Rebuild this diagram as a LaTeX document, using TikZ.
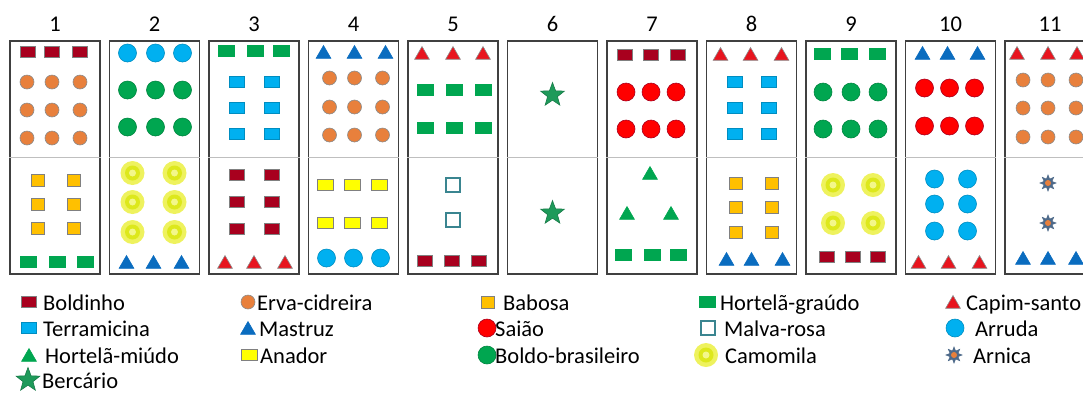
\documentclass[tikz,border=0pt]{standalone}
\usepackage{fontspec}
\setmainfont{Carlito}
\usetikzlibrary{shapes.geometric, positioning}
\definecolor{bdred}{HTML}{A8001E}
\definecolor{ervaor}{HTML}{E8803C}
\definecolor{babor}{HTML}{FFC000}
\definecolor{hgreen}{HTML}{00A650}
\definecolor{tblue}{HTML}{00B0F0}
\definecolor{mblue}{HTML}{0A6CBF}
\definecolor{cred}{HTML}{E8141E}
\definecolor{sred}{HTML}{FF0000}
\definecolor{anyel}{HTML}{FFFF00}
\definecolor{malteal}{HTML}{3A8590}
\definecolor{arnblue}{HTML}{4E6A8A}
\definecolor{bgreen}{HTML}{1E9A5A}
\definecolor{camhalo}{HTML}{EEF25E}
\definecolor{camring}{HTML}{DDE81C}
\definecolor{camcore}{HTML}{F3F78A}

\tikzset{
  plant/.style={inner sep=0pt, line width=0.6pt},
  sq/.style={plant, rectangle, minimum width=15pt, minimum height=11pt},
  dot/.style={plant, circle, minimum size=18pt},
  tri/.style={plant, regular polygon, regular polygon sides=3,
              minimum size=17pt, yshift=-2pt},
  boldinho/.style={sq, fill=bdred, draw=black!50},
  hgraudo/.style={sq, minimum width=16pt, fill=hgreen, draw=hgreen},
  terramicina/.style={sq, fill=tblue, draw=tblue!80!black},
  babosa/.style={sq, minimum width=13pt, minimum height=12pt,
                 fill=babor, draw=black!50},
  anador/.style={sq, minimum width=16pt, fill=anyel, draw=black!50},
  malva/.style={plant, rectangle, minimum size=13.5pt, fill=white,
                draw=malteal, line width=2.4pt},
  erva/.style={dot, minimum size=14pt, fill=ervaor, draw=black!45},
  arruda/.style={dot, fill=tblue, draw=tblue!80!black},
  saiao/.style={dot, fill=sred, draw=bdred},
  boldo/.style={dot, fill=hgreen, draw=hgreen!80!black},
  camomila/.style={dot, minimum size=24pt, fill=camhalo,
    path picture={
      \fill[camring] (path picture bounding box.center) circle (7.5pt);
      \fill[camcore] (path picture bounding box.center) circle (3.5pt);}},
  mastruz/.style={tri, fill=mblue, draw=mblue},
  capim/.style={tri, fill=cred, draw=black!45},
  hmiudo/.style={tri, fill=hgreen, draw=hgreen},
  bercario/.style={plant, star, star points=5, star point ratio=2.4,
                   minimum size=25pt, fill=bgreen, draw=bgreen!80!black},
  arnica/.style={plant, star, star points=8, star point ratio=1.9,
    minimum size=16pt, fill=arnblue, draw=arnblue,
    path picture={
      \fill[ervaor] (path picture bounding box.center) circle (3pt);}},
  bedbox/.style={draw=black!75, line width=1.3pt, minimum width=90pt,
                 minimum height=233pt, inner sep=0pt},
  divider/.style={draw=black!25, line width=0.8pt}
}

\begin{document}
\begin{tikzpicture}[x=1pt, y=-1pt, font=\fontsize{22.5}{27}\selectfont]
  \useasboundingbox (0,0) rectangle (1083,392);
  \clip (0,0) rectangle (1083,392);
  % beds
  \foreach \k in {1,...,11}{
    \node[bedbox] (bed\k) at ({55+(\k-1)*99.5},157.5) {};
    \draw[divider] (bed\k.west) -- (bed\k.east);
    \node[above=5pt of bed\k] (num\k) {\k};
  }
  % plants: style/y/{x offsets}
  \foreach \k/\rows in {
    1/{boldinho/52/{-27,-3,25}, erva/82/{-28,-3,25}, erva/110/{-28,-3,25},
       erva/138/{-28,-3,25}, babosa/180/{-17,19}, babosa/204/{-17,19},
       babosa/228/{-17,19}, hgraudo/262/{-27,2,30}},
    2/{arruda/53/{-27,1,28}, boldo/90/{-27,1,28}, boldo/127/{-27,1,28},
       camomila/173/{-22,20}, camomila/202/{-22,20}, camomila/232/{-22,20},
       mastruz/262/{-28,-1,27}},
    3/{hgraudo/51/{-28,1,27}, terramicina/82/{-17,18},
       terramicina/108/{-17,18}, terramicina/134/{-17,18},
       boldinho/175/{-17,18}, boldinho/202/{-17,18}, boldinho/229/{-17,18},
       capim/262/{-29,0,31}},
    4/{mastruz/52/{-30,1,32}, erva/78/{-24,1,29}, erva/107/{-24,1,29},
       erva/135/{-24,1,29}, anador/185/{-28,-1,26}, anador/223/{-28,-1,26},
       arruda/258/{-27,0,27}},
    5/{capim/53/{-31,0,30}, hgraudo/90/{-28,1,30}, hgraudo/128/{-28,1,30},
       malva/185/{0}, malva/220/{0}, boldinho/261/{-28,-1,26}},
    6/{bercario/95/{0}, bercario/213/{0}},
    7/{boldinho/55/{-27,-1,26}, saiao/92/{-26,-1,24}, saiao/129/{-26,-1,24},
       hmiudo/173/{-2}, hmiudo/213/{-25,19}, hgraudo/255/{-29,0,26}},
    8/{capim/54/{-31,-1,30}, terramicina/82/{-17,17},
       terramicina/108/{-17,17}, terramicina/134/{-17,17},
       babosa/183/{-16,20}, babosa/207/{-16,20}, babosa/232/{-16,20},
       mastruz/259/{-25,0,31}},
    9/{hgraudo/54/{-29,-2,26}, boldo/92/{-28,0,27}, boldo/129/{-28,0,27},
       camomila/185/{-18,22}, camomila/223/{-18,22},
       boldinho/257/{-24,2,27}},
    10/{mastruz/53/{-28,-3,27}, saiao/88/{-26,-1,24}, saiao/126/{-26,-1,24},
        arruda/179/{-16,17}, arruda/204/{-16,17}, arruda/231/{-16,17},
        capim/262/{-32,-2,29}},
    11/{capim/53/{-33,-2,27}, erva/80/{-27,-2,26}, erva/108/{-27,-2,26},
        erva/137/{-27,-2,26}, arnica/183/{-2}, arnica/223/{-2},
        mastruz/258/{-27,-2,26}}}{
    \foreach \s/\y/\xs [count=\r] in \rows
      \foreach \dx [count=\c] in \xs
        \node[\s] (p\k-\r-\c) at ({55+(\k-1)*99.5+(\dx)},\y) {};
  }
  % legend
  \foreach \s/\mx/\tx/\y/\name in {
    boldinho/29/43/302/Boldinho, terramicina/29/43/328/Terramicina,
    hmiudo/29/45/355/Hortelã-miúdo, bercario/28/42/380/Bercário,
    erva/248/257/302/Erva-cidreira, mastruz/248/259/328/Mastruz,
    anador/249/260/355/Anador, babosa/488/503/302/Babosa,
    saiao/487/495/328/Saião, boldo/487/495/355/Boldo-brasileiro,
    hgraudo/707/720/302/Hortelã-graúdo, malva/708/724/328/Malva-rosa,
    camomila/706/725/355/Camomila, capim/953/966/302/Capim-santo,
    arruda/955/975/328/Arruda, arnica/954/973/355/Arnica}{
    \node[\s] (key-\s) at (\mx,\y) {};
    \node[anchor=base west, inner sep=0pt] (lab-\s) at (\tx,\y+8) {\name};
  }
\end{tikzpicture}
\end{document}
